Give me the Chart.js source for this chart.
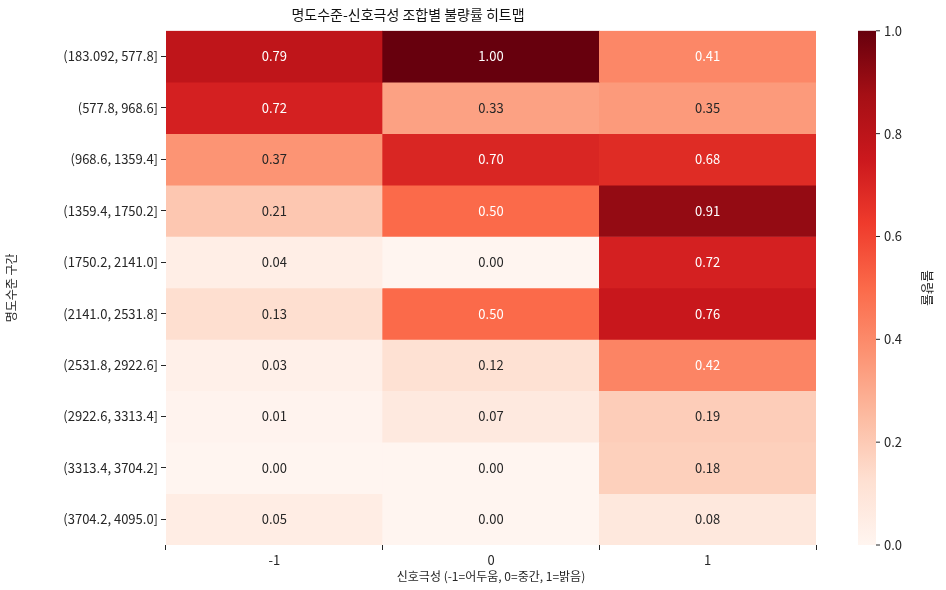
<!DOCTYPE html>
<html><head><meta charset="utf-8">
<script src="https://cdn.jsdelivr.net/npm/chart.js@4"></script>
<style>body{margin:0;background:#fff}#wrap{width:946px;height:590px}</style>
</head><body><div id="wrap"><canvas id="c"></canvas></div>
<script>
const rowLabels = ['(183.092, 577.8]','(577.8, 968.6]','(968.6, 1359.4]','(1359.4, 1750.2]','(1750.2, 2141.0]','(2141.0, 2531.8]','(2531.8, 2922.6]','(2922.6, 3313.4]','(3313.4, 3704.2]','(3704.2, 4095.0]'];
const colLabels = ['-1','0','1'];
const values = [
  [0.79,1.00,0.41],[0.72,0.33,0.35],[0.37,0.70,0.68],[0.21,0.50,0.91],[0.04,0.00,0.72],
  [0.13,0.50,0.76],[0.03,0.12,0.42],[0.01,0.07,0.19],[0.00,0.00,0.18],[0.05,0.00,0.08]
];
const cbTicks = [0,0.2,0.4,0.6,0.8,1.0];
const FONT = "'Noto Sans CJK KR','Noto Sans',sans-serif";
const stops = ['#fff5f0','#fee0d2','#fcbba1','#fc9272','#fb6a4a','#ef3b2c','#cb181d','#a50f15','#67000d'];
function hex(h){return [1,3,5].map(i=>parseInt(h.substr(i,2),16));}
function reds(v){
  const p=Math.min(Math.max(v,0),1)*8, i=Math.min(Math.floor(p),7), t=p-i;
  const a=hex(stops[i]), b=hex(stops[i+1]);
  return 'rgb('+a.map((x,k)=>Math.round(x+(b[k]-x)*t)).join(',')+')';
}
const datasets = values.map((row,i)=>({
  label: rowLabels[i], data: row.map(()=>1), vals: row,
  backgroundColor: row.map(reds), borderWidth:0, barPercentage:1, categoryPercentage:1
}));
const overlay = {
  id:'overlay',
  afterDatasetsDraw(chart){
    const ctx=chart.ctx;
    ctx.save();ctx.font='13px '+FONT;ctx.textAlign='center';ctx.textBaseline='middle';
    chart.data.datasets.forEach((ds,i)=>{
      chart.getDatasetMeta(i).data.forEach((bar,j)=>{
        const v=ds.vals[j];
        ctx.fillStyle = v>0.4?'#ffffff':'#262626';
        ctx.fillText(v.toFixed(2), bar.x, (bar.y+bar.base)/2);
      });
    });
    // colorbar
    const a=chart.chartArea, x0=858, w=18;
    const g=ctx.createLinearGradient(0,a.bottom,0,a.top);
    stops.forEach((s,k)=>g.addColorStop(k/8,s));
    ctx.fillStyle=g;ctx.fillRect(x0,a.top,w,a.bottom-a.top);
    ctx.fillStyle='#262626';ctx.strokeStyle='#262626';ctx.textAlign='left';
    cbTicks.forEach(t=>{
      const y=a.bottom-(a.bottom-a.top)*t;
      ctx.beginPath();ctx.moveTo(x0+w,y);ctx.lineTo(x0+w+4,y);ctx.stroke();
      ctx.fillText(t.toFixed(1),x0+w+8,y);
    });
    ctx.translate(928,(a.top+a.bottom)/2);ctx.rotate(Math.PI/2);ctx.textAlign='center';
    ctx.fillText('불량률',0,0);
    ctx.restore();
  }
};
new Chart(document.getElementById('c'),{
  type:'bar',
  data:{labels:colLabels,datasets},
  plugins:[overlay],
  options:{
    responsive:true,maintainAspectRatio:false,animation:false,
    layout:{padding:{left:0,right:130,top:4,bottom:2}},
    plugins:{legend:{display:false},tooltip:{enabled:false},
      title:{display:true,text:'명도수준-신호극성 조합별 불량률 히트맵',color:'#111',font:{family:FONT,size:14,weight:'normal'},padding:{top:2,bottom:8}}},
    scales:{
      x:{stacked:true,grid:{display:true,drawOnChartArea:false,tickLength:5,color:'#262626'},border:{display:false},
        ticks:{color:'#262626',font:{family:FONT,size:13},padding:2},
        title:{display:true,text:'신호극성 (-1=어두움, 0=중간, 1=밝음)',color:'#262626',font:{family:FONT,size:12},padding:{top:0}}},
      y:{stacked:true,reverse:true,min:0,max:10,grid:{display:true,drawOnChartArea:false,tickLength:5,color:'#262626'},border:{display:false},
        afterBuildTicks(ax){ax.ticks=rowLabels.map((_,i)=>({value:i+0.5}));},
        afterFit(ax){ax.width=166;},
        ticks:{color:'#262626',font:{family:FONT,size:13},padding:3,callback:(v)=>rowLabels[Math.floor(v)]},
        title:{display:true,text:'명도수준 구간',color:'#262626',font:{family:FONT,size:12}}}
    }
  }
});
</script></body></html>
